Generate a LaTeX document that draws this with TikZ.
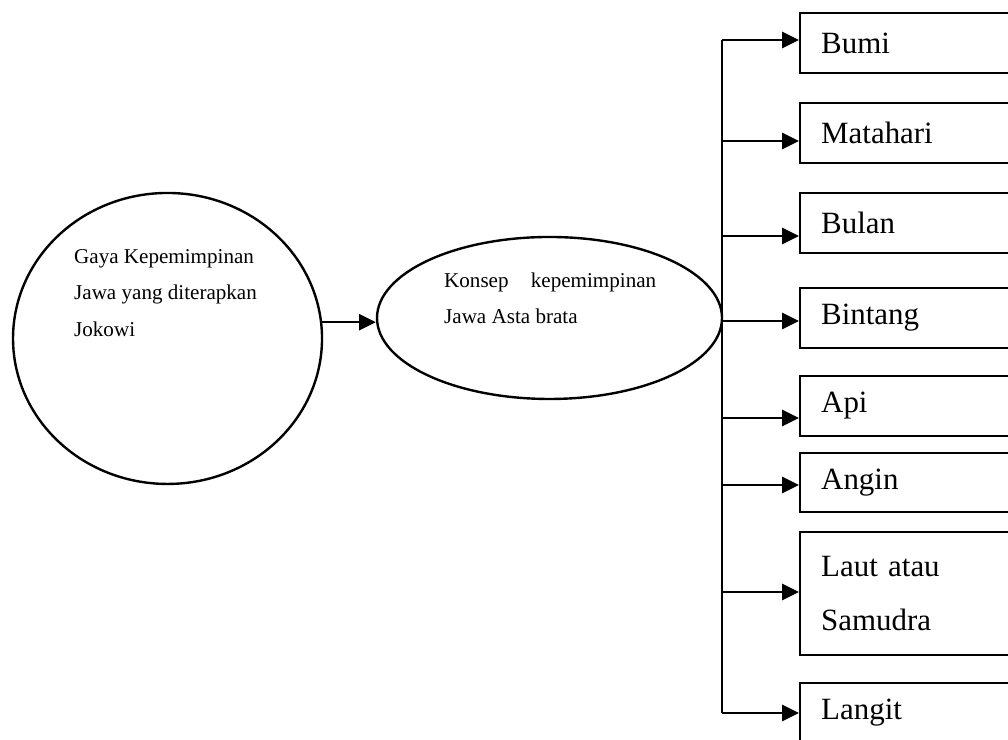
\documentclass[tikz,border=0pt]{standalone}
\usepackage{fontspec}
\setmainfont{Liberation Serif}
\usepackage{tikz}
\usetikzlibrary{shapes.geometric, arrows.meta, positioning, calc}

\begin{document}
\begin{tikzpicture}[
    line width=0.85pt,
    bulat/.style={ellipse, draw, inner sep=0pt},
    isi/.style={inner sep=0pt, align=left, anchor=west, font=\fontsize{7.5}{13}\selectfont},
    kotak/.style={rectangle, draw, anchor=west, text width=2.2375cm, align=left,
        inner xsep=0.2625cm, inner ysep=0pt, font=\fontsize{11}{19.5}\selectfont},
    arrow/.style={-{Triangle[length=2.1mm, width=2mm]}}
]
\useasboundingbox (0,0) rectangle (12.6,9.25);

% Lingkaran kiri
\node[bulat, minimum width=3.8625cm, minimum height=3.6375cm] (gaya) at (2.094, 5.019) {};
\node[isi] (gayatext) at (0.9125, 5.5875) {Gaya Kepemimpinan\\Jawa yang diterapkan\\Jokowi};

% Elips tengah
\node[bulat, minimum width=4.3125cm, minimum height=2.025cm] (konsep) at (6.869, 5.275) {};
\node[isi] (konseptext) at (5.5375, 5.519) {\makebox[2.65cm][s]{Konsep kepemimpinan}\\Jawa Asta brata};

\draw[arrow] (gaya.6) -- (gaya.6 -| konsep.west);

% Kotak kanan
\node[kotak, minimum height=0.75cm] (bumi) at (9.9875, 8.7125) {Bumi};
\node[kotak, minimum height=0.75cm] (matahari) at (9.9875, 7.5875) {Matahari};
\node[kotak, minimum height=0.75cm] (bulan) at (9.9875, 6.4625) {Bulan};
\node[kotak, minimum height=0.75cm] (bintang) at (9.9875, 5.275) {Bintang};
\node[kotak, minimum height=0.75cm] (api) at (9.9875, 4.175) {Api};
\node[kotak, minimum height=0.74cm] (angin) at (9.9875, 3.219) {Angin};
\node[kotak, minimum height=1.5375cm] (laut) at (9.9875, 1.831) {Laut atau\\Samudra};
\node[kotak, minimum height=0.75cm] (langit) at (9.9875, 0.3375) {Langit};

% Panah
\foreach \name/\y in {bumi/8.75, matahari/7.4875, bulan/6.3, bintang/5.2375,
    api/4.025, angin/3.1875, laut/1.85, langit/0.3375} {
    \coordinate (j-\name) at (9.025, \y);
    \draw[arrow] (j-\name) -- (j-\name -| \name.west);
}
\draw (j-bumi) -- (j-langit);

\end{tikzpicture}
\end{document}
